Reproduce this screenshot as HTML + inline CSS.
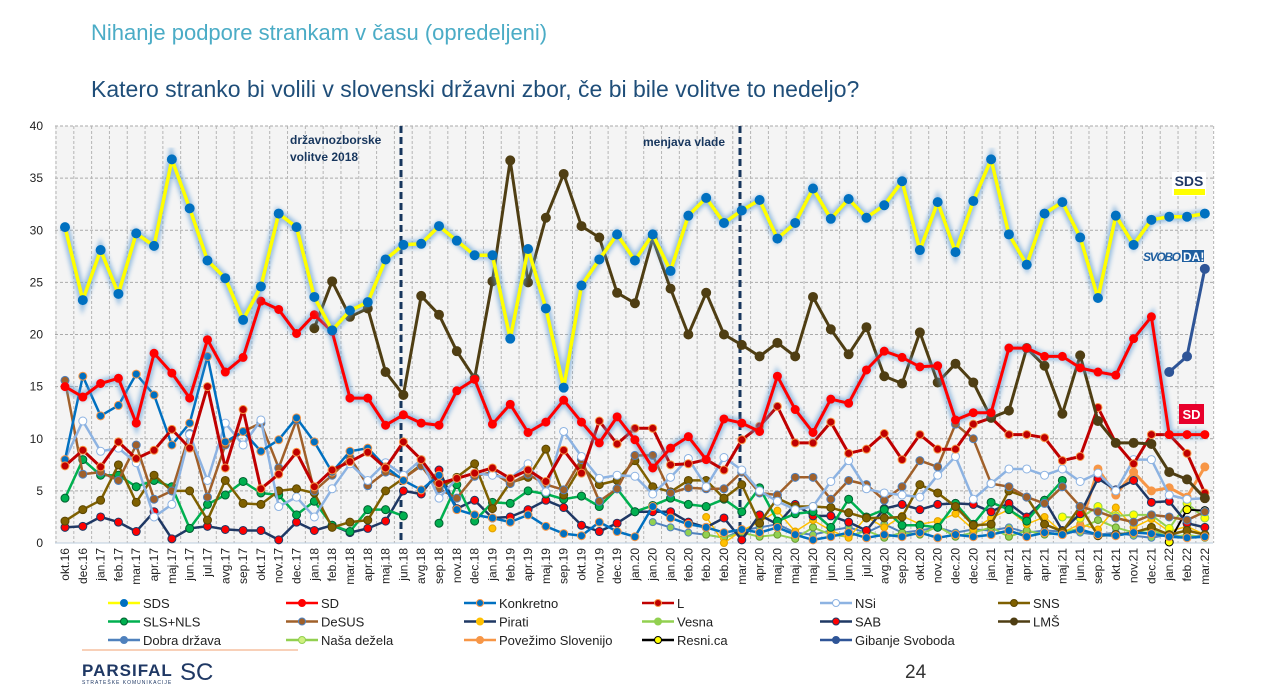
<!DOCTYPE html>
<html><head><meta charset="utf-8"><style>
body{margin:0;background:#fff;width:1262px;height:692px;overflow:hidden;font-family:"Liberation Sans",sans-serif;}
#t1{position:absolute;left:91px;top:20px;font-size:22px;color:#4bacc6;}
#t2{position:absolute;left:91px;top:76px;font-size:23px;color:#1f4e79;}
svg{position:absolute;left:0;top:0;}
</style></head><body>
<div id="t1">Nihanje podpore strankam v času (opredeljeni)</div>
<div id="t2">Katero stranko bi volili v slovenski državni zbor, če bi bile volitve to nedeljo?</div>
<svg id="s" width="1262" height="692" xmlns="http://www.w3.org/2000/svg"></svg>
<script>
const S=document.getElementById('s');let h='';
const X=i=>65+17.81*i, Y=v=>543-10.425*v;
h+='<defs><filter id="gl" x="-5%" y="-5%" width="110%" height="110%"><feGaussianBlur stdDeviation="2.2"/></filter></defs>';
h+='<rect x="55" y="126" width="1158" height="417" fill="#f4f4f4"/>';
for(let v=5;v<=40;v+=5)h+=`<line x1="55" x2="1213" y1="${Y(v)}" y2="${Y(v)}" stroke="#aaa" stroke-dasharray="3,2" stroke-width="1"/>`;
for(let i=0;i<=65;i++){let x=56+17.81*i;h+=`<line x1="${x}" x2="${x}" y1="126" y2="543" stroke="#b5b5b5" stroke-dasharray="3,2" stroke-width="1"/>`;}
h+='<line x1="55" x2="1213" y1="543" y2="543" stroke="#bcd" stroke-width="1"/>';
for(let v=0;v<=40;v+=5)h+=`<text x="43" y="${Y(v)+4}" font-size="12" text-anchor="end" fill="#222">${v}</text>`;
const L="okt.16 dec.16 jan.17 feb.17 mar.17 apr.17 maj.17 jun.17 jul.17 avg.17 sep.17 okt.17 nov.17 dec.17 jan.18 feb.18 mar.18 apr.18 maj.18 jun.18 avg.18 sep.18 nov.18 dec.18 jan.19 feb.19 apr.19 maj.19 sep.19 okt.19 nov.19 dec.19 jan.20 jan.20 jan.20 feb.20 feb.20 feb.20 mar.20 apr.20 maj.20 maj.20 maj.20 jun.20 jun.20 jul.20 avg.20 sep.20 okt.20 nov.20 dec.20 dec.20 jan.21 mar.21 apr.21 apr.21 maj.21 jun.21 sep.21 okt.21 nov.21 dec.21 jan.22 feb.22 mar.22".split(' ');
L.forEach((l,i)=>{h+=`<text transform="translate(${X(i)+4},548) rotate(-90)" font-size="12" text-anchor="end" fill="#222">${l}</text>`;});
// dashed verticals
[401,740].forEach(x=>h+=`<line x1="${x}" x2="${x}" y1="126" y2="543" stroke="#17365d" stroke-width="3" stroke-dasharray="7,4"/>`);
h+='<text x="290" y="144" font-size="12" font-weight="bold" fill="#17365d">državnozborske</text><text x="290" y="161" font-size="12" font-weight="bold" fill="#17365d">volitve 2018</text>';
h+='<text x="643" y="146" font-size="12" font-weight="bold" fill="#17365d">menjava vlade</text>';
function ser(start,vals,col,w,mk,mkStroke,r,glow){
 let pts=vals.map((v,k)=>v==null?null:[X(start+k),Y(v)]);
 let segs=[],cur=[];pts.forEach(p=>{if(p)cur.push(p);else{if(cur.length)segs.push(cur);cur=[];}});if(cur.length)segs.push(cur);
 segs.forEach(sg=>{let d=sg.map(p=>p[0].toFixed(1)+','+p[1].toFixed(1)).join(' ');
  if(glow)h+=`<polyline points="${d}" fill="none" stroke="#5b9bd5" stroke-width="${w+5}" opacity="0.6" filter="url(#gl)"/>`;
  h+=`<polyline points="${d}" fill="none" stroke="${col}" stroke-width="${w}" stroke-linejoin="round"/>`;});
 pts.forEach(p=>{if(p)h+=`<circle cx="${p[0]}" cy="${p[1]}" r="${r}" fill="${mk}" stroke="${mkStroke}" stroke-width="1"/>`;});
}
// minor series
ser(33,[2,1.5,1,0.8,0.5,1.2,1.5,1.8,1,0.8,1.2,1.5,1,1.8,1,1.2,1.5,1,1.3,1.2,1.5,1,1.2,1.1,1,0.8,1,0.7,0.5,0.8,0.6,0.7],'#4f81bd',2,'#92d050','#4f81bd',3.5);
ser(36,[0.8,0.5,1,0.6,0.8,0.4,1.5,0.8,0.6,1.2,0.5,1,0.8,1.6,0.6,1,1.5,0.6,1.2,0.8,1,1.4,2.2,1.5,1,1.3,0.5,0.8,0.5],'#92d050',2,'#92d050','#6a9a30',3.5);
ser(24,[1.4,null,null,null,null,null,null,null,null,null,null,null,2.5,0,1.2,2.0,3.1,1.1,2.2,1.2,0.5,2.5,1.5,2.6,1.8,2.1,2.8,1.3,2.4,3.2,1.8,2.5,1.0,1.8,1.3,3.4,1.5,2.3,1.1,1.6,0.8],'#ffc000',1.5,'#ffc000','#e0a000',3.5);
ser(57,[1.5,7.1,4.6,6.8,5.0,5.3,4.4,7.3],'#f79646',3,'#f79646','#f79646',4);
ser(56,[2.5,2.4,3.5,2.6,2.7,2.7,1.4,3.8,2.4],'#92d050',2,'#ffff00','#92d050',4);
ser(62,[0.1,3.2,3.1],'#000',2,'#ffff00','#000',4);
ser(0,[1.5,1.6,2.5,2.0,1.1,3.0,0.4,1.4,1.6,1.3,1.2,1.2,0.3,2.0,1.2,1.7,1.0,1.4,2.1,5.0,4.7,7.0,3.3,4.1,2.4,2.5,3.2,4.1,3.4,1.7,1.1,1.9,3.0,3.0,3.0,2.0,1.5,2.4,0.3,2.7,1.8,3.7,2.6,2.6,2.0,1.2,3.3,3.7,3.2,3.7,3.8,3.7,3.0,3.8,2.5,4.1,1.2,2.8,6.2,5.1,6.0,3.9,4.0,1.9,1.5],'#1f3864',2.5,'#ff0000','#1f3864',4);
ser(0,[4.3,8.0,6.5,6.5,5.4,6.0,5.4,1.4,3.7,4.6,5.9,4.8,4.6,2.7,4.0,1.7,1.1,3.2,3.2,2.6,null,1.9,5.6,2.1,3.9,3.8,5.0,4.7,4.2,4.5,3.5,5.2,3.0,3.6,4.3,3.7,3.5,4.2,3.0,5.3,2.1,2.8,3.0,1.5,4.2,2.5,3.2,1.7,1.7,1.5,3.8,1.8,3.9,3.2,2.1,4.1,6.0],'#00b050',2.5,'#00b050','#006030',4);
ser(0,[2.1,3.2,4.1,7.5,3.9,6.5,5.0,5.0,2.2,6.0,3.8,3.7,5.0,5.2,4.8,1.5,2.0,2.2,5.0,6.2,7.5,5.2,6.3,7.6,3.3,5.8,6.3,9.0,4.6,7.4,5.6,6.0,7.9,5.4,4.9,6.0,6.0,4.3,5.6,1.9,4.3,3.5,3.5,3.4,2.9,2.4,2.4,2.5,5.6,4.8,3.5,1.7,1.8,5.0,4.4,1.8,1.1,3.5,0.7,0.8,1.0,1.5,0.8,1.2,0.8],'#7f6000',2.5,'#7f6000','#5a4500',4);
ser(0,[15.6,6.6,6.8,6.0,9.4,4.2,5.0,10.5,4.4,9.4,10.7,11.5,7.2,11.8,5.0,6.5,8.2,5.5,6.8,6.2,7.4,5.2,4.3,6.4,6.8,5.7,6.6,5.6,5.1,8.0,4.0,5.2,8.4,8.4,4.8,5.3,5.2,5.2,6.8,4.8,4.6,6.3,6.3,4.2,6.0,5.6,4.1,5.4,7.9,7.3,11.4,10.0,5.7,5.4,4.4,3.8,5.4,3.5,3.0,2.4,2.0,2.7,2.5,2.2,3.0],'#a0602a',2.5,'#a0602a','#4f81bd',4);
ser(0,[8.0,11.7,8.8,9.1,7.7,2.5,3.7,10.4,6.0,11.5,9.4,11.8,3.5,4.4,2.5,5.2,7.6,6.0,7.7,6.5,8.0,4.3,6.2,6.7,6.5,6.2,7.6,4.9,10.7,8.3,6.2,6.5,6.4,4.7,6.3,8.1,5.4,8.2,7.0,5.0,4.0,3.2,3.5,5.9,7.9,5.2,4.8,4.6,4.4,6.5,8.3,4.2,5.7,7.1,7.1,6.5,7.1,5.9,6.7,5.0,8.0,8.0,4.6,4.2,4.3],'#8db3e2',2.5,'#fff','#8db3e2',4);
ser(0,[8.0,16.0,12.2,13.2,16.2,14.2,9.4,11.5,17.9,9.7,10.7,8.8,9.9,12.0,9.7,6.8,8.8,9.1,7.3,6.0,5.1,6.5,3.2,2.7,2.4,2.0,2.7,1.6,0.9,0.7,2.0,1.1,0.6,3.5,2.4,1.8,1.5,1.0,1.3,1.0,1.5,0.8,0.3,0.6,1.0,0.5,0.8,0.6,1.0,0.5,0.8,0.6,0.8,1.2,0.6,1.0,0.8,1.3,0.8,0.7,1.0,0.9,0.6,0.5,0.6],'#0070c0',2.5,'#0070c0','#f79646',4);
ser(0,[7.4,8.9,7.3,9.7,8.1,8.9,10.9,9.1,15.0,7.2,12.8,5.2,6.6,8.7,5.4,7.0,7.8,8.7,7.2,9.7,8.0,5.7,6.2,6.7,7.2,6.2,7.0,5.9,8.9,6.7,11.7,9.5,11.0,11.0,7.5,7.6,8.0,7.0,9.9,11.2,13.1,9.6,9.6,11.6,8.6,9.0,10.5,8.0,10.4,9.0,9.0,11.4,12.0,10.4,10.4,10.1,7.9,8.3,13.0,9.6,7.6,10.4,10.4,8.6,4.8],'#c00000',3,'#c00000','#f79646',4);
ser(14,[20.6,25.1,21.7,22.5,16.4,14.2,23.7,21.9,18.4,15.8,25.1,36.7,25.0,31.2,35.4,30.4,29.3,24.0,23.0,29.2,24.4,20.0,24.0,20.0,19.0,17.9,19.2,17.9,23.6,20.5,18.1,20.7,16.0,15.3,20.2,15.4,17.2,15.4,12.0,12.7,18.7,17.0,12.4,18.0,11.7,9.6,9.6,9.5,6.8,6.1,4.3],'#4f3e13',3,'#4f3e13','#4f3e13',4.5);
ser(0,[15.0,14.0,15.3,15.8,11.5,18.2,16.3,13.9,19.5,16.4,17.8,23.2,22.4,20.1,21.9,20.3,13.9,13.9,11.3,12.3,11.5,11.3,14.6,15.7,11.4,13.3,10.6,11.6,13.7,11.6,9.6,12.1,9.9,7.2,9.1,10.2,8.0,11.9,11.5,10.7,16.0,12.8,10.6,13.8,13.4,16.6,18.4,17.8,16.9,17.0,11.8,12.5,12.5,18.7,18.7,17.9,17.9,16.8,16.4,16.1,19.6,21.7,10.4,10.4,10.4],'#ff0000',3,'#ff0000','#ff0000',4,true);
ser(0,[30.3,23.3,28.1,23.9,29.7,28.5,36.8,32.1,27.1,25.4,21.4,24.6,31.6,30.3,23.6,20.4,22.3,23.1,27.2,28.6,28.7,30.4,29.0,27.6,27.6,19.6,28.2,22.5,14.9,24.7,27.2,29.6,27.1,29.6,26.1,31.4,33.1,30.7,31.9,32.9,29.2,30.7,34.0,31.1,33.0,31.2,32.4,34.7,28.1,32.7,27.9,32.8,36.8,29.6,26.7,31.6,32.7,29.3,23.5,31.4,28.6,31.0,31.3,31.3,31.6],'#ffff00',3.5,'#0070c0','#0070c0',4.5,true);
ser(62,[16.4,17.9,26.3],'#2f5597',3,'#2f5597','#2f5597',4.5);
// logos
h+='<rect x="1172" y="172" width="34" height="24" fill="#fff"/><text x="1189" y="186" font-size="14" font-weight="bold" fill="#1f3864" text-anchor="middle">SDS</text><rect x="1174" y="189" width="31" height="6" fill="#ffff00"/>';
h+='<text x="1143" y="261" font-size="12" font-weight="bold" fill="#1f5fa0" font-style="italic" textLength="38">SVOBO</text><rect x="1182" y="250" width="22" height="12" fill="#1f5fa0"/><text x="1183" y="261" font-size="12" font-weight="bold" fill="#fff">DA!</text>';
h+='<rect x="1179" y="404" width="25" height="20" fill="#e8002b"/><text x="1191.5" y="419" font-size="13" font-weight="bold" fill="#fff" text-anchor="middle">SD</text>';
// legend
const lg=[['SDS','#ffff00','#0070c0','#0070c0'],['SD','#ff0000','#ff0000','#ff0000'],['Konkretno','#0070c0','#0070c0','#f79646'],['L','#c00000','#c00000','#f79646'],['NSi','#8db3e2','#fff','#8db3e2'],['SNS','#7f6000','#7f6000','#5a4500'],
['SLS+NLS','#00b050','#00b050','#006030'],['DeSUS','#a0602a','#a0602a','#4f81bd'],['Pirati','#1f3864','#ffc000','#ffc000'],['Vesna','#92d050','#92d050','#92d050'],['SAB','#1f3864','#ff0000','#1f3864'],['LMŠ','#4f3e13','#4f3e13','#4f3e13'],
['Dobra država','#4f81bd','#4f81bd','#4f81bd'],['Naša dežela','#92d050','#d0f080','#92d050'],['Povežimo Slovenijo','#f79646','#f79646','#f79646'],['Resni.ca','#000','#ffff00','#000'],['Gibanje Svoboda','#2f5597','#2f5597','#2f5597']];
lg.forEach((e,k)=>{let c=k%6,r=Math.floor(k/6);let x=108+c*178,y=603+r*18.5;
 h+=`<line x1="${x}" x2="${x+32}" y1="${y}" y2="${y}" stroke="${e[1]}" stroke-width="2.5"/><circle cx="${x+16}" cy="${y}" r="3.5" fill="${e[2]}" stroke="${e[3]}"/><text x="${x+35}" y="${y+5}" font-size="13" fill="#222">${e[0]}</text>`;});
h+='<line x1="82" x2="298" y1="650" y2="650" stroke="#f0a070" stroke-width="1"/>';
h+='<text x="82" y="676" font-size="17" font-weight="bold" fill="#1f3864" letter-spacing="1">PARSIFAL</text><text x="180" y="680" font-size="24" fill="#1f3864">SC</text><text x="82" y="684" font-size="5" fill="#1f3864" letter-spacing="1">STRATEŠKE KOMUNIKACIJE</text>';
h+='<text x="905" y="678" font-size="19" fill="#333">24</text>';
S.innerHTML=h;
</script>
</body></html>
